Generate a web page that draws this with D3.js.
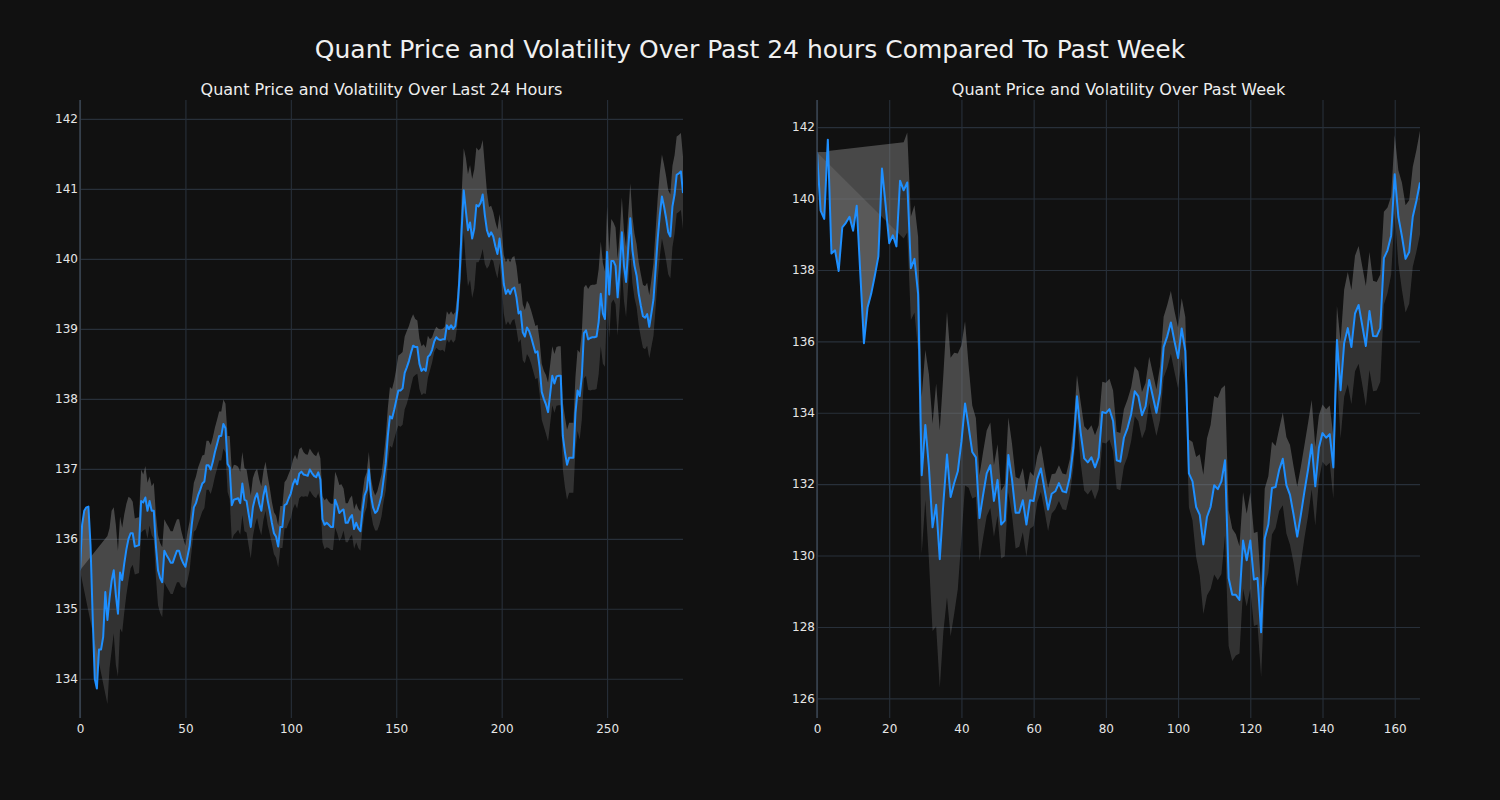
<!DOCTYPE html>
<html><head><meta charset="utf-8">
<script src="https://cdn.jsdelivr.net/npm/d3@7"></script>
<style>html,body{margin:0;padding:0;background:#111111;} svg{display:block;}</style>
</head><body>
<svg id="chart" width="1500" height="800"></svg>
<script>
const suptitle = "Quant Price and Volatility Over Past 24 hours Compared To Past Week";
const dayTitle = "Quant Price and Volatility Over Last 24 Hours";
const weekTitle = "Quant Price and Volatility Over Past Week";

const dayPrice = [
135.55,136.2,136.4,136.45,136.46,135.9,134.9,134.0,133.86,134.42,
134.42,134.6,135.24,134.84,135.15,135.4,135.55,135.2,134.93,135.52,
135.41,135.65,135.85,136.0,136.08,136.08,135.89,135.9,135.91,136.54,
136.52,136.59,136.4,136.54,136.4,136.4,135.9,135.55,135.44,135.38,
135.83,135.77,135.72,135.66,135.66,135.75,135.83,135.83,135.72,135.65,
135.6,135.75,135.9,136.2,136.45,136.51,136.62,136.7,136.79,136.82,
137.05,137.05,136.99,137.1,137.24,137.35,137.47,137.47,137.64,137.58,
137.07,137.02,136.48,136.56,136.57,136.58,136.51,136.79,136.56,136.54,
136.35,136.17,136.45,136.58,136.65,136.5,136.4,136.62,136.75,136.55,
136.4,136.23,136.08,136.03,135.89,136.17,136.17,136.48,136.5,136.58,
136.65,136.78,136.85,136.78,136.93,136.96,136.92,136.91,136.9,136.99,
136.94,136.9,136.88,136.95,136.85,136.28,136.2,136.23,136.2,136.17,
136.17,136.56,136.48,136.37,136.4,136.42,136.23,136.23,136.3,136.34,
136.14,136.23,136.15,136.11,136.4,136.62,136.7,136.99,136.62,136.45,
136.37,136.4,136.5,136.62,136.85,137.07,137.47,137.75,137.72,137.84,
137.98,138.12,138.12,138.15,138.37,138.45,138.54,138.66,138.76,138.74,
138.74,138.5,138.4,138.43,138.4,138.6,138.63,138.7,138.82,138.88,
138.85,138.84,138.85,138.85,139.05,139.0,139.05,139.0,139.04,139.28,
139.73,140.41,140.98,140.69,140.41,140.52,140.29,140.43,140.77,140.75,
140.8,140.92,140.63,140.41,140.32,140.38,140.32,140.18,140.07,140.29,
140.01,139.64,139.5,139.56,139.5,139.57,139.59,139.45,139.22,139.25,
138.95,138.89,139.02,138.97,138.88,138.77,138.66,138.68,138.45,138.1,
138.0,137.92,137.81,138.07,138.33,138.22,138.32,138.33,138.33,137.47,
137.24,137.06,137.16,137.16,137.16,137.8,138.12,138.04,138.32,138.94,
138.98,138.85,138.87,138.88,138.88,138.89,139.1,139.5,139.22,139.14,
140.1,139.49,139.97,139.97,139.9,139.45,139.85,140.38,139.9,139.67,
140.13,140.58,140.13,139.9,139.76,139.5,139.33,139.18,139.16,139.21,
139.03,139.22,139.42,139.85,140.29,140.63,140.89,140.75,140.58,140.38,
140.32,140.75,140.92,141.2,141.22,141.25,140.94];

const dayVol = [
0,null,null,null,null,null,null,null,null,null,
null,null,null,1.2,1.0,1.0,0.9,1.0,0.9,0.8,
0.75,0.7,0.65,0.6,0.5,0.45,0.4,0.4,0.4,0.45,
0.4,0.45,0.4,0.35,0.35,0.4,0.45,0.5,0.5,0.5,
0.45,0.45,0.45,0.45,0.45,0.45,0.45,0.45,0.4,0.35,
0.3,0.35,0.35,0.35,0.35,0.38,0.4,0.4,0.4,0.38,
0.35,0.35,0.35,0.35,0.35,0.35,0.35,0.35,0.35,0.35,
0.4,0.45,0.5,0.5,0.48,0.45,0.45,0.45,0.45,0.45,
0.45,0.45,0.42,0.38,0.35,0.35,0.35,0.35,0.35,0.35,
0.33,0.3,0.3,0.3,0.3,0.3,0.3,0.33,0.35,0.35,
0.35,0.35,0.35,0.35,0.35,0.35,0.32,0.3,0.3,0.3,
0.3,0.3,0.3,0.3,0.3,0.33,0.35,0.35,0.33,0.33,
0.33,0.4,0.4,0.4,0.38,0.3,0.28,0.28,0.28,0.28,
0.28,0.28,0.28,0.28,0.25,0.25,0.25,0.25,0.25,0.25,
0.25,0.28,0.3,0.3,0.32,0.38,0.4,0.42,0.42,0.42,
0.45,0.5,0.52,0.52,0.52,0.52,0.5,0.48,0.45,0.4,
0.38,0.36,0.35,0.35,0.33,0.3,0.22,0.18,0.15,0.15,
0.15,0.15,0.15,0.18,0.2,0.2,0.2,0.2,0.2,0.22,
0.3,0.5,0.6,0.75,0.8,0.82,0.85,0.85,0.82,0.8,
0.78,0.78,0.7,0.55,0.42,0.38,0.35,0.35,0.35,0.35,
0.38,0.42,0.45,0.45,0.45,0.45,0.45,0.45,0.42,0.4,
0.4,0.38,0.38,0.38,0.38,0.38,0.38,0.38,0.38,0.4,
0.4,0.42,0.42,0.42,0.42,0.42,0.42,0.42,0.42,0.48,
0.5,0.5,0.5,0.5,0.5,0.52,0.58,0.62,0.62,0.65,
0.65,0.72,0.75,0.75,0.75,0.75,0.75,0.75,0.72,0.68,
0.65,0.62,0.6,0.55,0.55,0.55,0.52,0.5,0.5,0.5,
0.5,0.5,0.48,0.46,0.45,0.45,0.45,0.45,0.45,0.45,
0.45,0.48,0.52,0.55,0.58,0.6,0.6,0.6,0.6,0.6,
0.6,0.58,0.56,0.55,0.55,0.55,0.52];

const weekPrice = [
141.3,139.66,139.43,141.65,138.46,138.55,137.97,139.19,139.32,139.49,
139.1,139.8,137.89,135.95,136.95,137.33,137.83,138.38,140.84,139.82,
138.75,138.97,138.66,140.5,140.23,140.45,138.05,138.31,137.33,132.25,
133.66,132.47,130.79,131.42,129.9,131.47,132.83,131.64,132.03,132.36,
133.19,134.26,133.6,132.9,132.75,131.05,131.7,132.3,132.53,131.53,
132.12,130.87,130.98,132.82,132.14,131.2,131.2,131.55,130.87,131.55,
131.53,132.14,132.44,131.86,131.29,131.73,131.8,132.03,131.8,131.77,
132.19,133.02,134.46,133.46,132.72,132.61,132.75,132.47,132.75,134.02,
133.99,134.1,133.77,132.67,132.63,133.3,133.57,133.96,134.6,134.46,
133.93,134.18,134.92,134.46,134.0,134.55,135.84,136.14,136.53,136.0,
135.53,136.36,135.73,132.3,132.08,131.36,131.14,130.31,131.08,131.36,
131.97,131.86,132.08,132.67,129.37,128.9,128.9,128.76,130.42,129.87,
130.42,129.33,129.37,127.85,130.48,130.87,131.89,131.92,132.4,132.71,
131.97,131.7,131.14,130.53,131.14,131.8,132.41,133.11,131.94,133.02,
133.43,133.3,133.4,132.47,136.04,134.63,135.95,136.37,135.84,136.78,
137.02,136.45,135.87,136.85,136.15,136.14,136.37,138.33,138.55,138.96,
140.68,139.49,138.94,138.31,138.5,139.49,139.93,140.45];

const weekVol = [
0,null,null,null,null,null,null,null,null,null,
null,null,null,null,null,null,null,null,null,null,
null,null,null,null,1.35,1.4,1.45,1.5,1.6,2.2,
2.1,2.6,2.9,3.4,3.6,3.6,4.0,3.9,3.65,3.3,
2.7,2.3,1.7,1.3,1.1,1.2,1.2,1.2,1.2,1.0,
1.0,0.95,1.0,1.05,1.0,1.0,0.95,0.9,0.9,0.8,
0.7,0.65,0.65,0.6,0.6,0.55,0.5,0.5,0.5,0.5,
0.5,0.55,0.6,0.85,0.9,0.9,0.9,0.9,0.9,0.85,
0.85,0.85,0.85,0.8,0.8,0.8,0.8,0.75,0.7,0.7,
0.65,0.65,0.65,0.65,0.65,0.75,0.85,0.88,0.88,0.85,
0.85,0.85,0.95,0.95,1.1,1.4,1.7,1.95,2.2,2.3,
2.5,2.55,2.6,2.1,1.9,1.85,1.7,1.5,1.35,1.3,
1.35,1.3,1.3,1.25,1.4,1.35,1.3,1.15,1.15,1.3,
1.35,1.4,1.35,1.4,1.35,1.3,1.3,1.25,1.1,0.9,
0.8,0.8,0.8,0.87,0.95,1.35,1.5,1.57,1.6,1.62,
1.65,1.65,1.68,1.65,1.55,1.52,1.5,1.3,1.2,1.1,
1.1,1.3,1.5,1.5,1.45,1.4,1.42,1.45];

const dayXTicks = [0, 50, 100, 150, 200, 250];
const dayYTicks = [134, 135, 136, 137, 138, 139, 140, 141, 142];
const weekXTicks = [0, 20, 40, 60, 80, 100, 120, 140, 160];
const weekYTicks = [126, 128, 130, 132, 134, 136, 138, 140, 142];

const svg = d3.select("#chart");
svg.append("rect").attr("width", 1500).attr("height", 800).attr("fill", "#111111");

svg.append("text").attr("x", 750).attr("y", 58).attr("text-anchor", "middle")
  .attr("font-family", "DejaVu Sans").attr("font-size", 25).attr("fill", "#f0f0f0").text(suptitle);

function panel(id, price, vol, xTicks, yTicks, yDomain, box, title) {
  const g = svg.append("g");
  const x = d3.scaleLinear().domain([0, price.length - 1]).range([box.x0, box.x1]);
  const y = d3.scaleLinear().domain(yDomain).range([box.y1, box.y0]);
  const W = box.x1 - box.x0, H = box.y1 - box.y0;

  svg.append("clipPath").attr("id", id).append("rect")
    .attr("x", box.x0).attr("y", box.y0).attr("width", W).attr("height", H);

  const ya = g.append("g").attr("transform", `translate(${box.x0},0)`)
    .call(d3.axisLeft(y).tickValues(yTicks).tickSize(-W).tickPadding(2).tickFormat(d3.format("d")));
  const xa = g.append("g").attr("transform", `translate(0,${box.y1})`)
    .call(d3.axisBottom(x).tickValues(xTicks).tickSize(-H).tickPadding(6).tickFormat(d3.format("d")));
  [ya, xa].forEach(a => {
    a.select(".domain").remove();
    a.selectAll(".tick line").attr("stroke", "#28303a").attr("stroke-width", 1.1);
    a.selectAll(".tick text").attr("fill", "#e6e6e6").attr("font-family", "DejaVu Sans").attr("font-size", 12);
  });

  const defined = price.map((p, i) => ({i, p, v: vol[i]})).filter(d => d.v !== null);
  const priceBack = price.map((p, i) => [x(i), y(p)]).reverse();
  const upperPoly = defined.map(d => [x(d.i), y(d.p + d.v)]).concat(priceBack);
  const lowerPoly = defined.map(d => [x(d.i), y(d.p - d.v)]).concat(priceBack);
  const poly = d3.line();

  const plot = g.append("g").attr("clip-path", `url(#${id})`);
  plot.append("path").attr("fill", "#808080").attr("fill-opacity", 0.5).attr("stroke", "none")
    .attr("d", poly(upperPoly) + "Z");
  plot.append("path").attr("fill", "#808080").attr("fill-opacity", 0.3).attr("stroke", "none")
    .attr("d", poly(lowerPoly) + "Z");
  plot.append("path").datum(price).attr("fill", "none").attr("stroke", "#1e8fff")
    .attr("stroke-width", 2).attr("stroke-linejoin", "round")
    .attr("d", d3.line().x((d, i) => x(i)).y(d => y(d)));

  g.append("line").attr("x1", box.x0).attr("x2", box.x0).attr("y1", box.y0).attr("y2", box.y1)
    .attr("stroke", "#3a4452").attr("stroke-width", 1.5);

  g.append("text").attr("x", (box.x0 + box.x1) / 2).attr("y", 94.5).attr("text-anchor", "middle")
    .attr("font-family", "DejaVu Sans").attr("font-size", 16).attr("fill", "#eeeeee").text(title);
}

panel("clipL", dayPrice, dayVol, dayXTicks, dayYTicks, [133.44, 142.27], {x0: 80, x1: 683, y0: 100, y1: 718}, dayTitle);
panel("clipR", weekPrice, weekVol, weekXTicks, weekYTicks, [125.45, 142.76], {x0: 817, x1: 1420, y0: 100, y1: 718}, weekTitle);
</script>
</body></html>
